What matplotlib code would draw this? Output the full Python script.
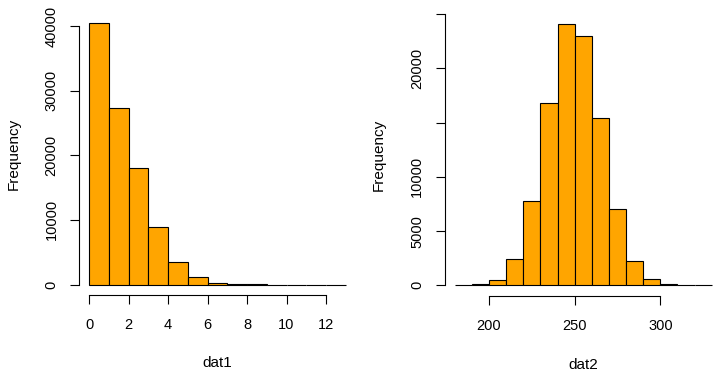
import numpy as np
import matplotlib
matplotlib.use("Agg")
from matplotlib import pyplot as plt

plt.rcParams['font.family'] = ['Liberation Sans', 'DejaVu Sans']

# histogram of dat1 (bins of width 1)
dat1_edges = list(range(0, 14))
dat1_counts = [40400, 27250, 18100, 8980, 3560, 1240, 310, 40, 10, 3, 1, 0, 1]

# histogram of dat2 (bins of width 10)
dat2_edges = list(range(180, 340, 10))
dat2_counts = [10, 90, 460, 2400, 7760, 16800, 24100, 23000, 15430, 7020, 2220, 550, 90, 10, 1]

dat1_xticks = [0, 2, 4, 6, 8, 10, 12]
dat1_yticks = [0, 10000, 20000, 30000, 40000]
dat1_ylabels = ['0', '10000', '20000', '30000', '40000']
dat2_xticks = [200, 250, 300]
dat2_yticks = [0, 5000, 10000, 15000, 20000, 25000]
dat2_ylabels = ['0', '5000', '10000', '', '20000', '']

fig = plt.figure(figsize=(7.25, 3.77), dpi=100)
ax1 = fig.add_axes([79 / 725, 1 - 295 / 377, 277 / 725, 282 / 377])
ax2 = fig.add_axes([444.5 / 725, 1 - 295.8 / 377, 277.5 / 725, 282.4 / 377])


def r_hist(ax, edges, counts, xticks, yticks, ylabels, ytop, xlab, xl_y, yl_x):
    edges = np.array(edges)
    ax.bar(edges[:-1], counts, width=np.diff(edges), align='edge',
           color='#FFA500', edgecolor='black', linewidth=0.8)
    xr = edges[-1] - edges[0]
    ax.set_xlim(edges[0] - 0.04 * xr, edges[-1] + 0.04 * xr)
    ymax = max(counts)
    ax.set_ylim(-0.04 * ymax, ymax * 1.04)
    for s in ['top', 'right']:
        ax.spines[s].set_visible(False)
    ax.spines['left'].set_bounds(yticks[0], ytop)
    ax.spines['bottom'].set_bounds(xticks[0], xticks[-1])
    for s in ['left', 'bottom']:
        ax.spines[s].set_linewidth(0.8)
    ax.set_xticks(xticks)
    ax.set_yticks(yticks)
    ax.set_yticklabels(ylabels, rotation=90, va='center')
    ax.tick_params(direction='out', length=6.7, width=0.8, labelsize=10.5, pad=8)
    ax.tick_params(axis='x', pad=10)
    ax.set_xlabel(xlab, fontsize=11)
    ax.set_ylabel('Frequency', fontsize=11)
    ax.xaxis.set_label_coords(0.5, xl_y)
    ax.xaxis.label.set_va('center')
    ax.yaxis.set_label_coords(yl_x, 0.5)
    ax.yaxis.label.set_va('center')


r_hist(ax1, dat1_edges, dat1_counts, dat1_xticks, dat1_yticks, dat1_ylabels,
       40000, 'dat1', -0.241, -0.2365)
r_hist(ax2, dat2_edges, dat2_counts, dat2_xticks, dat2_yticks, dat2_ylabels,
       25000, 'dat2', -0.245, -0.2386)

fig.savefig('out.png', dpi=100)
